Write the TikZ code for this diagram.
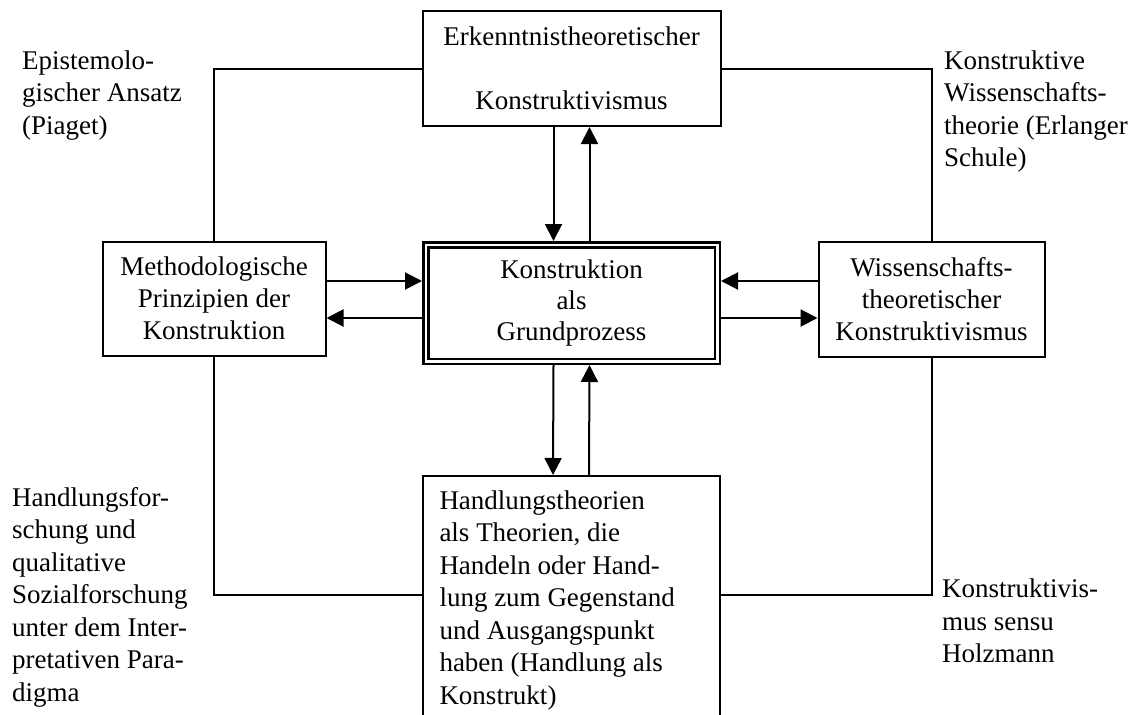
\documentclass[tikz,border=0pt]{standalone}
\usepackage{fontspec}
\setmainfont{Liberation Serif}
\usetikzlibrary{arrows.meta}
\begin{document}
\begin{tikzpicture}[x=1pt,y=-1pt,
  font=\fontsize{27}{32.5}\selectfont,
  box/.style={draw, line width=2pt, inner sep=0pt, align=center},
  sidetext/.style={inner sep=0pt, anchor=north west, align=left},
  link/.style={line width=2pt},
  arr/.style={line width=2pt, -{Triangle[width=17pt,length=17pt]}},
]
\useasboundingbox (0,0) rectangle (1133,715);
\clip (0,0) rectangle (1133,715);
\fill[white] (0,0) rectangle (1133,715);

% boxes
\node[box, minimum width=298, minimum height=115] (epi) at (571.5,68.5)
  {Erkenntnistheoretischer\\[32pt]Konstruktivismus};
\node[box, double, line width=2.5pt, double distance=2.5pt, outer sep=3.75pt,
      minimum width=291.5, minimum height=116.5,
      font=\fontsize{27}{31}\selectfont] (core) at (571.5,303)
  {Konstruktion\\als\\Grundprozess};
\node[box, minimum width=223, minimum height=114,
      font=\fontsize{27}{32}\selectfont] (meth) at (214,298.5)
  {Methodologische\\Prinzipien der\\Konstruktion};
\node[box, minimum width=226, minimum height=115,
      font=\fontsize{27}{32}\selectfont] (wiss) at (931.5,299)
  {Wissenschafts-\\theoretischer\\Konstruktivismus};
\node[box, anchor=north, minimum width=297, text width=263, align=flush left,
      inner xsep=17pt, inner ysep=14.6pt] (hand) at (571,475)
  {Handlungstheorien\\als Theorien, die\\Handeln oder Hand-\\lung zum Gegenstand\\und Ausgangspunkt\\haben (Handlung als\\Konstrukt)};

% side labels
\node[sidetext] (piaget) at (22,50.5) {Epistemolo-\\gischer Ansatz\\(Piaget)};
\node[sidetext] (erlangen) at (944,50.5) {Konstruktive\\Wissenschafts-\\theorie (Erlanger\\Schule)};
\node[sidetext] (qual) at (12,487) {Handlungsfor-\\schung und\\qualitative\\Sozialforschung\\unter dem Inter-\\pretativen Para-\\digma};
\node[sidetext] (holz) at (942,579) {Konstruktivis-\\mus sensu\\Holzmann};

% outer frame
\draw[link] (epi.west) -| (meth.north);
\draw[link] (epi.east) -| (wiss.north);
\draw[link] (meth.south) |- ([yshift=-120pt]hand.north west);
\draw[link] (wiss.south) |- ([yshift=-120pt]hand.north east);

% arrows to and from the core
\draw[arr] ([xshift=-18pt]epi.south) -- ([xshift=-18pt]core.north);
\draw[arr] ([xshift=18pt]core.north) -- ([xshift=18pt]epi.south);
\draw[arr] ([xshift=-18pt]core.south) -- ([xshift=-18pt]hand.north);
\draw[arr] ([xshift=18pt]hand.north) -- ([xshift=18pt]core.south);
\draw[arr] ([yshift=17.5pt]meth.east) -- ([yshift=17.5pt]meth.east -| core.west);
\draw[arr] ([yshift=-19.5pt]meth.east -| core.west) -- ([yshift=-19.5pt]meth.east);
\draw[arr] ([yshift=18pt]wiss.west) -- ([yshift=18pt]wiss.west -| core.east);
\draw[arr] ([yshift=-19pt]wiss.west -| core.east) -- ([yshift=-19pt]wiss.west);
\end{tikzpicture}
\end{document}
